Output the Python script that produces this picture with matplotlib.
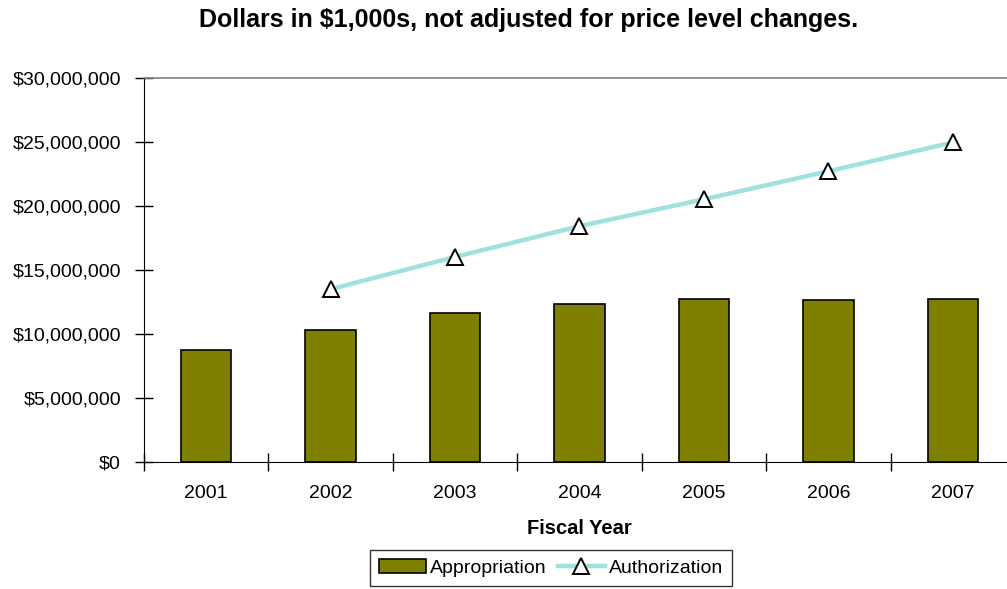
import numpy as np
import matplotlib.pyplot as plt
from matplotlib.patches import Patch
from matplotlib.lines import Line2D
from matplotlib.ticker import FuncFormatter

plt.rcParams['font.family'] = ['Liberation Sans', 'DejaVu Sans']

# Data (dollars in $1,000s)
years = ['2001', '2002', '2003', '2004', '2005', '2006', '2007']
appropriation = [8700000, 10310000, 11640000, 12300000, 12730000, 12630000, 12730000]
auth_years = ['2002', '2003', '2004', '2005', '2006', '2007']
authorization = [13480000, 16000000, 18400000, 20500000, 22690000, 24940000]

bar_color = '#808000'
line_color = '#A0E0E0'

fig = plt.figure(figsize=(10.07, 5.89), dpi=100)
ax = fig.add_axes([0.143, 0.2161, 0.8649, 0.652])

x = np.arange(len(years))
ax.bar(x, appropriation, width=0.405, color=bar_color, edgecolor='black', linewidth=1.2, zorder=2)

ax_x = [years.index(y) for y in auth_years]
ax.plot(ax_x, authorization, color=line_color, linewidth=3.2, zorder=3)
ax.plot(ax_x, authorization, linestyle='none', marker='^', markersize=11,
        markerfacecolor='white', markeredgecolor='black', markeredgewidth=1.4, zorder=4)

ax.set_xlim(-0.5, len(years) - 0.5)
ax.set_ylim(0, 30000000)
ax.set_yticks(np.arange(0, 30000001, 5000000))
ax.yaxis.set_major_formatter(FuncFormatter(lambda v, p: '${:,.0f}'.format(v)))

ax.set_xticks(x)
ax.set_xticklabels(years)
ax.set_xticks(np.arange(-0.5, len(years) + 0.5, 1), minor=True)
ax.tick_params(axis='x', which='major', length=0, pad=17, labelsize=14)
ax.tick_params(axis='x', which='minor', direction='inout', length=13, width=1, color='black')
ax.tick_params(axis='y', direction='inout', length=13, width=1, pad=10, labelsize=14)

ax.spines['right'].set_visible(False)
ax.spines['top'].set_color('#808080')
ax.spines['top'].set_linewidth(1.2)
ax.spines['left'].set_color('black')
ax.spines['bottom'].set_color('black')

ax.set_xlabel('Fiscal Year', fontsize=14.5, fontweight='bold', labelpad=12)

fig.text(529 / 1007, 1 - 20 / 589, 'Dollars in $1,000s, not adjusted for price level changes.',
         ha='center', va='center', fontsize=18, fontweight='bold')

handles = [Patch(facecolor=bar_color, edgecolor='black', linewidth=1.2),
           Line2D([0], [0], color=line_color, linewidth=3.2, marker='^', markersize=11,
                  markerfacecolor='white', markeredgecolor='black', markeredgewidth=1.4)]
fig.legend(handles, ['Appropriation', 'Authorization'], loc='center',
           bbox_to_anchor=(551 / 1007, 1 - 568 / 589), ncol=2, fontsize=14,
           frameon=True, fancybox=False, edgecolor='black', handlelength=2.4,
           handletextpad=0.2, columnspacing=0.6, borderpad=0.45, borderaxespad=0)

fig.savefig('out.png', dpi=100)
